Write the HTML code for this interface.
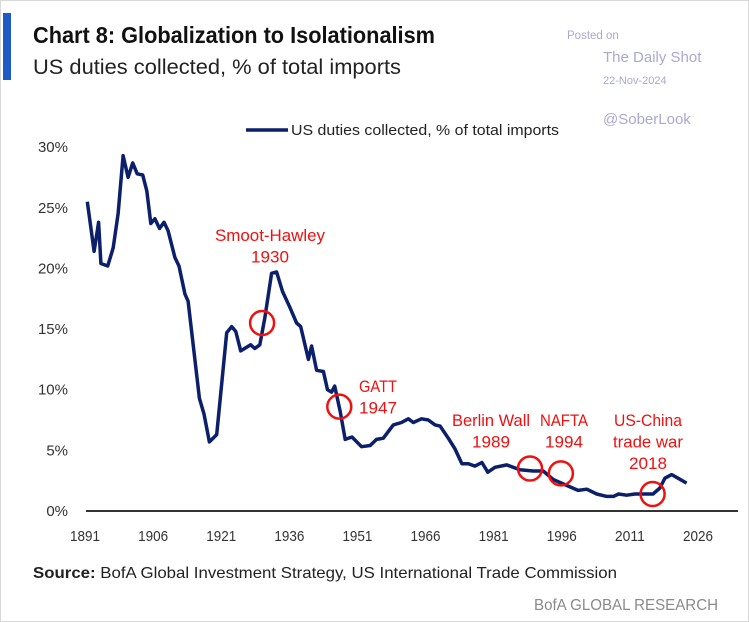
<!DOCTYPE html>
<html><head><meta charset="utf-8"><style>
html,body{margin:0;padding:0;background:#fff;}
svg{display:block;font-family:"Liberation Sans",sans-serif;}
</style></head><body>
<svg id="chart" width="749" height="622" viewBox="0 0 749 622">
<rect x="0" y="0" width="749" height="622" fill="#fff" stroke="#d8d8d8" stroke-width="2"/>
<rect x="3" y="13" width="8" height="67" fill="#1f5bc6"/>
<text x="33" y="43" font-size="23" font-weight="bold" fill="#111" textLength="402" lengthAdjust="spacingAndGlyphs">Chart 8: Globalization to Isolationalism</text>
<text x="33" y="74" font-size="21" fill="#222" textLength="368" lengthAdjust="spacingAndGlyphs">US duties collected, % of total imports</text>
<g fill="#a9a9d2">
<text x="567" y="39" font-size="11.5">Posted on</text>
<text x="603" y="62" font-size="15">The Daily Shot</text>
<text x="603" y="84" font-size="11">22-Nov-2024</text>
<text x="603" y="124" font-size="15">@SoberLook</text>
</g>
<line x1="246" y1="130" x2="288" y2="130" stroke="#0c1f6b" stroke-width="3.5"/>
<text x="291" y="135" font-size="15" fill="#222" textLength="268" lengthAdjust="spacingAndGlyphs">US duties collected, % of total imports</text>
<g id="yaxis"></g>
<g id="xaxis"></g>
<line x1="86" y1="511" x2="738" y2="511" stroke="#333" stroke-width="2"/>
<path id="series" fill="none" stroke="#0c1f6b" stroke-width="3.5" stroke-linejoin="round"/>
<g id="annots"></g>
<text x="33" y="578" font-size="16" fill="#222" textLength="584" lengthAdjust="spacingAndGlyphs"><tspan font-weight="bold">Source:</tspan> BofA Global Investment Strategy, US International Trade Commission</text>
<text x="718" y="610" font-size="16" fill="#8a8a8a" text-anchor="end" textLength="184" lengthAdjust="spacingAndGlyphs">BofA GLOBAL RESEARCH</text>
</svg>
<script>
const years=[1891.5,1893,1894,1894.5,1896,1897.2,1898.3,1899.4,1900.5,1901.5,1902.5,1903.7,1904.6,1905.5,1906.4,1907.4,1908.4,1909.3,1910.8,1911.7,1913,1913.7,1916.2,1917.2,1918.4,1920,1922.2,1923.3,1924.2,1925.3,1927.5,1928.4,1929.5,1930.6,1932.1,1933.2,1934.5,1936.1,1937.6,1938.5,1940.2,1940.9,1942,1943.5,1944.4,1945.3,1946,1947.2,1948.3,1949.8,1951.9,1953.8,1955.2,1956.7,1958.9,1960.7,1962.2,1963.3,1965.1,1966.6,1968.1,1969.2,1971,1972.5,1974,1975.4,1976.9,1978.4,1979.7,1981.3,1983.9,1986.8,1989.7,1991.9,1994.1,1997.1,1999.6,2001.5,2003.7,2005.9,2007.4,2008.5,2010.3,2012.1,2014,2016.1,2017.6,2018.7,2020.2,2021.6,2023.5];
const duties=[25.5,21.4,23.8,20.4,20.2,21.7,24.5,29.3,27.5,28.7,27.8,27.7,26.4,23.7,24.1,23.3,23.8,23.1,20.9,20.2,17.9,17.3,9.3,8.0,5.7,6.3,14.7,15.2,14.8,13.2,13.7,13.4,13.7,15.9,19.6,19.7,18.1,16.8,15.5,15.2,12.5,13.6,11.6,11.5,10.0,9.8,10.3,8.2,5.9,6.1,5.3,5.4,5.9,6.0,7.1,7.3,7.6,7.3,7.6,7.5,7.1,7.0,6.0,5.1,3.9,3.9,3.7,4.0,3.2,3.6,3.8,3.4,3.3,3.3,2.6,2.1,1.7,1.8,1.4,1.2,1.2,1.4,1.3,1.4,1.4,1.4,1.9,2.7,3.0,2.7,2.3];
const xTicks=[1891,1906,1921,1936,1951,1966,1981,1996,2011,2026];
const yTicks=[0,5,10,15,20,25,30];
const events=[
 {name:"smoot-hawley",year:1930,val:15.5,lines:["Smoot-Hawley","1930"],widths:[110,38],lx:270,ly:241,anchor:"middle"},
 {name:"gatt",year:1947,val:8.6,lines:["GATT","1947"],widths:[38,38],lx:359,ly:392,anchor:"start"},
 {name:"berlin-wall",year:1989,val:3.5,lines:["Berlin Wall","1989"],widths:[78,38],lx:491,ly:426,anchor:"middle"},
 {name:"nafta",year:1995.8,val:3.1,lines:["NAFTA","1994"],widths:[48,38],lx:564,ly:426,anchor:"middle"},
 {name:"us-china",year:2016,val:1.4,lines:["US-China","trade war","2018"],widths:[68,70,38],lx:648,ly:426,anchor:"middle"}
];
const NS="http://www.w3.org/2000/svg";
const x=v=>85+(v-1891)*(613/135);
const y=v=>511-v*12.13;
const mk=(t,a,p)=>{const e=document.createElementNS(NS,t);for(const k in a)e.setAttribute(k,a[k]);p.appendChild(e);return e;};
const ya=document.getElementById('yaxis');
yTicks.forEach(t=>{const e=mk('text',{x:68,y:y(t)+5,'font-size':15,fill:'#333','text-anchor':'end'},ya);


e.textContent=t+'%';});
const xa=document.getElementById('xaxis');
xTicks.forEach(t=>{const e=mk('text',{x:x(t),y:541,'font-size':15,fill:'#333','text-anchor':'middle',textLength:30,lengthAdjust:'spacingAndGlyphs'},xa);


e.textContent=t;});
document.getElementById('series').setAttribute('d',years.map((yr,i)=>(i?'L':'M')+x(yr).toFixed(1)+' '+y(duties[i]).toFixed(1)).join(' '));
const an=document.getElementById('annots');
events.forEach(ev=>{const c=mk('circle',{cx:x(ev.year),cy:y(ev.val),r:12,fill:'none',stroke:'#f01010','stroke-width':2.5},an);


ev.lines.forEach((l,i)=>{const t=mk('text',{x:ev.lx,y:ev.ly+i*21.5,'font-size':17,fill:'#f01010','text-anchor':ev.anchor,textLength:ev.widths[i],lengthAdjust:'spacingAndGlyphs'},an);


t.textContent=l;});});
</script>
</body></html>
